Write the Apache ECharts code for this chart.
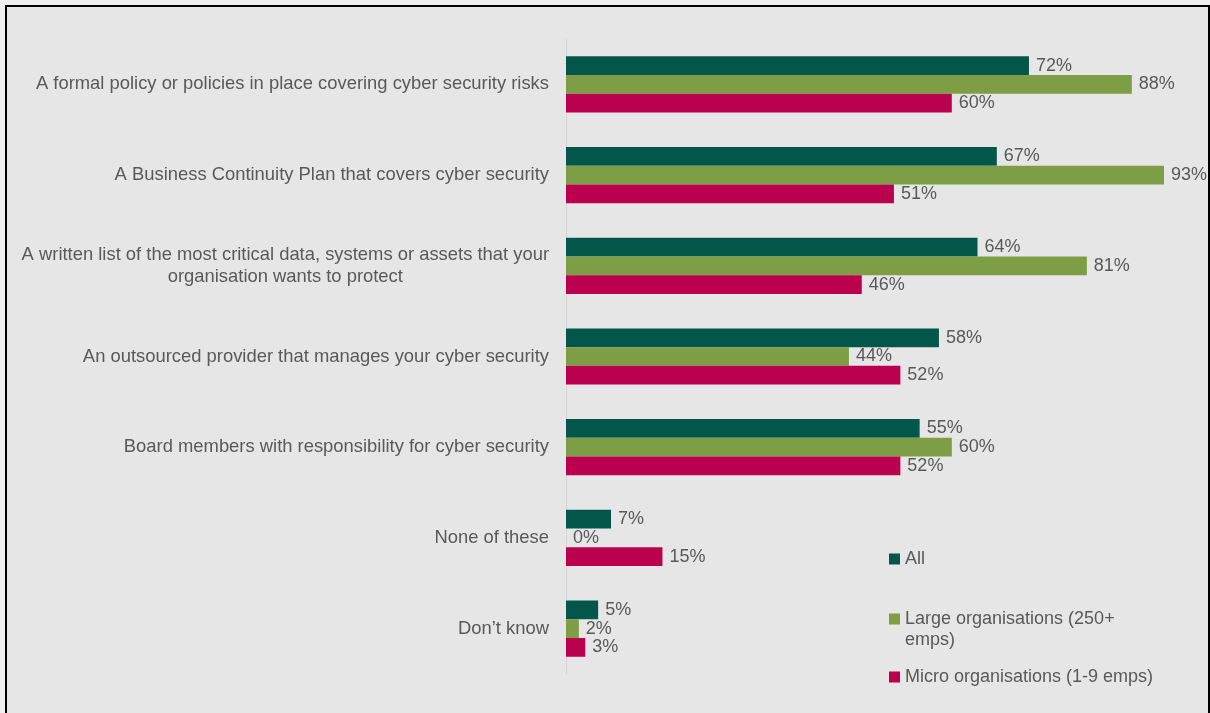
<!DOCTYPE html>
<html>
<head>
<meta charset="utf-8">
<script src="https://cdn.jsdelivr.net/npm/echarts@6/dist/echarts.min.js"></script>
<style>
  html, body { margin: 0; padding: 0; background: #efefef; overflow: hidden; }
  #frame { position: absolute; left: 5px; top: 5px; width: 1201px; height: 720px;
           border: 2px solid #000; border-bottom: none; background: #e6e6e6; }
  #main { position: absolute; left: 0; top: 0; width: 1210px; height: 713px; }
</style>
</head>
<body>
<div id="frame"></div>
<div id="main"></div>
<script>
// 分类（从上到下）
var categories = [
  'A formal policy or policies in place covering cyber security risks',
  'A Business Continuity Plan that covers cyber security',
  'A written list of the most critical data, systems or assets that your\norganisation wants to protect',
  'An outsourced provider that manages your cyber security',
  'Board members with responsibility for cyber security',
  'None of these',
  'Don\u2019t know'
];
var seriesNames = ['All', 'Large organisations (250+ emps)', 'Micro organisations (1-9 emps)'];
var allValues = [72, 67, 64, 58, 55, 7, 5];
var largeValues = [88, 93, 81, 44, 60, 0, 2];
var microValues = [60, 51, 46, 52, 52, 15, 3];
var colors = ['#02574A', '#7D9E44', '#BA004F'];

var txt = '#595959';
var font = 'Liberation Sans, Arial, sans-serif';

function makeSeries(name, data, color) {
  return {
    name: name,
    type: 'bar',
    data: data,
    color: color,
    barGap: '0%',
    barCategoryGap: '38%',
    label: {
      show: true,
      position: 'right',
      distance: 7,
      formatter: '{c}%',
      color: txt,
      fontSize: 18,
      fontFamily: font
    }
  };
}

var legendTops = [545, 605, 663];

var myChart = echarts.init(document.getElementById('main'), null, { renderer: 'canvas' });
myChart.setOption({
  backgroundColor: 'transparent',
  animation: false,
  textStyle: { fontFamily: font },
  grid: { left: 566, top: 39, width: 643, height: 635 },
  legend: seriesNames.map(function (n, i) {
    return {
      data: [n],
      left: 884,
      top: legendTops[i],
      orient: 'vertical',
      icon: 'rect',
      itemWidth: 11,
      itemHeight: 11,
      selectedMode: false,
      // 第二项图例文字换行，第二行放在 graphic 里
      formatter: function (n) {
        return n === seriesNames[1] ? 'Large organisations (250+' : n;
      },
      textStyle: { color: txt, fontSize: 18, fontFamily: font }
    };
  }),
  graphic: [{
    type: 'text',
    left: 905,
    top: 631,
    style: { text: 'emps)', fill: txt, fontSize: 18, fontFamily: font }
  }],
  xAxis: {
    type: 'value',
    min: 0,
    max: 100,
    show: false,
    splitLine: { show: false }
  },
  yAxis: {
    type: 'category',
    data: categories,
    inverse: true,
    axisLine: { show: true, lineStyle: { color: '#d4d4d4', width: 1 } },
    axisTick: { show: false },
    axisLabel: {
      margin: 17,
      color: txt,
      fontSize: 18.4,
      fontFamily: font,
      lineHeight: 22,
      formatter: function (v) { return '{c|' + v + '}'; },
      rich: { c: { align: 'center', color: txt, fontSize: 18.4, fontFamily: font, lineHeight: 22 } }
    }
  },
  series: [
    makeSeries(seriesNames[0], allValues, colors[0]),
    makeSeries(seriesNames[1], largeValues, colors[1]),
    makeSeries(seriesNames[2], microValues, colors[2])
  ]
});
</script>
</body>
</html>
